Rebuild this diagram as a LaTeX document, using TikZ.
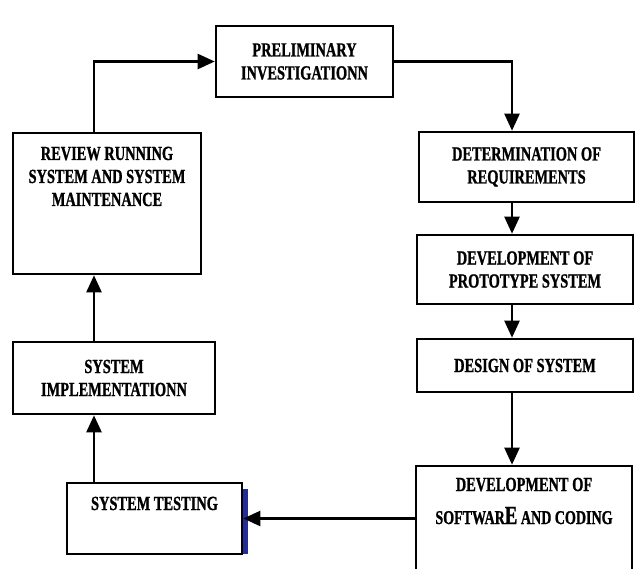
\documentclass[tikz,border=0pt]{standalone}
\usepackage{fontspec}
\usepackage{tikz}
\usetikzlibrary{arrows.meta}
\newfontfamily\boxfont{Liberation Serif}[FakeStretch=0.72, FakeBold=1]
\definecolor{barblue}{RGB}{35,45,150}
\newcommand{\lowcaps}[1]{{\fontsize{19.5}{23}\selectfont #1}}
\newcommand{\tallcaps}[1]{{\fontsize{26}{23}\selectfont #1}}

\begin{document}
\begin{tikzpicture}[x=1pt, y=-1pt,
        stage/.style={rectangle, draw=black, line width=2.6pt, fill=white, align=center, inner sep=2pt, font=\boxfont\bfseries\fontsize{20}{23}\selectfont},
        flow/.style={-{Triangle[length=17pt, width=15pt]}, line width=2.3pt, black}
      ]
        \useasboundingbox (0,0) rectangle (636,569);
        \clip (0,0) rectangle (636,569);

        \coordinate (lft) at (94,0);
        \coordinate (rgt) at (512,0);

        \node[stage, minimum width=177pt, minimum height=71pt]  (prelim)  at (304.5,61.5)  {PRELIMINARY\\INVESTIGATIONN};
        \node[stage, minimum width=188pt, minimum height=141pt, text height=59pt, text depth=54pt]  (review)  at (107,203.5)  {REVIEW RUNNING\\SYSTEM AND SYSTEM\\MAINTENANCE};
        \node[stage, minimum width=215pt, minimum height=70pt]  (determ)  at (526.5,167)   {DETERMINATION OF\\REQUIREMENTS};
        \node[stage, minimum width=216pt, minimum height=69pt]  (proto)   at (525,269.5)   {DEVELOPMENT OF\\PROTOTYPE SYSTEM};
        \node[stage, minimum width=216pt, minimum height=53pt]  (design)  at (525,365.5)   {DESIGN OF SYSTEM};
        \node[stage, minimum width=216pt, minimum height=114pt, text height=46pt, text depth=44pt]  (software) at (524,523)  {DEVELOPMENT OF\\[10pt]\lowcaps{SOFTWAR}\tallcaps{E} \lowcaps{AND CODING}};
        \node[stage, minimum width=202pt, minimum height=72pt]  (implem)  at (114,378)     {SYSTEM\\IMPLEMENTATIONN};
        \node[stage, minimum width=175pt, minimum height=71pt, text height=13pt, text depth=30pt]  (testing) at (154.5,518.5)  {SYSTEM TESTING};

        \fill[barblue] ([xshift=-0.5pt, yshift=-7pt]testing.north east) rectangle ([xshift=4.5pt, yshift=1pt]testing.south east);

        \draw[flow]  (review.north -| lft) |- (prelim.west);
        \draw[flow]  (prelim.east) -| (determ.north -| rgt);
        \draw[flow]  (determ.south -| rgt) -- (proto.north -| rgt);
        \draw[flow]  (proto.south -| rgt) -- (design.north -| rgt);
        \draw[flow]  (design.south -| rgt) -- (software.north -| rgt);
        \draw[flow]  (software.west |- testing.east) -- (testing.east);
        \draw[flow]  (testing.north -| lft) -- (implem.south -| lft);
        \draw[flow]  (implem.north -| lft) -- (review.south -| lft);
      \end{tikzpicture}
\end{document}
